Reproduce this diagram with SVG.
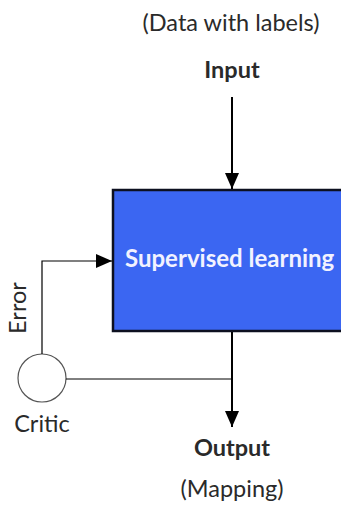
<svg xmlns="http://www.w3.org/2000/svg" width="341" height="510" viewBox="0 0 341 510">
<style>
text{font-family:Lato,"Open Sans","Liberation Sans",sans-serif;font-size:23.5px;fill:#2a2a2a}
.b{font-weight:bold}
.c{stroke:#000;fill:none}
</style>
<defs>
<marker id="ahl" markerWidth="16" markerHeight="14" refX="16" refY="7" orient="auto" markerUnits="userSpaceOnUse" viewBox="0 0 16 14">
<path d="M0,0 L16,7 L0,14 Z" fill="#000"/>
</marker>
</defs>
<rect width="341" height="510" fill="#fff"/>
<text x="231" y="31" text-anchor="middle">(Data with labels)</text>
<g id="input"><text class="b" x="232" y="78" text-anchor="middle">Input</text></g>
<g id="learner">
<rect x="113" y="190" width="240" height="141" fill="#3b66f2" stroke="#0d1020" stroke-width="2.5"/>
<text class="b" x="125" y="267" style="fill:#f2f2ff;font-size:24px">Supervised learning</text>
</g>
<g id="critic">
<circle cx="42" cy="378" r="24" fill="#fff" stroke="#555" stroke-width="1.2"/>
<text x="42" y="432" text-anchor="middle">Critic</text>
</g>
<g id="output">
<text class="b" x="232" y="456" text-anchor="middle">Output</text>
<text x="232" y="497" text-anchor="middle">(Mapping)</text>
</g>
<g id="connectors">
<line class="c" x1="232" y1="97" x2="232" y2="189" stroke-width="2" marker-end="url(#ahl)"/>
<polyline class="c" points="42,354 42,261 112,261" stroke-width="1.2" marker-end="url(#ahl)"/>
<line class="c" x1="232" y1="332" x2="232" y2="427" stroke-width="2" marker-end="url(#ahl)"/>
<line class="c" x1="66" y1="379" x2="232" y2="379" stroke-width="1" stroke="#444"/>
<text x="0" y="0" transform="translate(26,308) rotate(-90)" text-anchor="middle">Error</text>
</g>
</svg>
